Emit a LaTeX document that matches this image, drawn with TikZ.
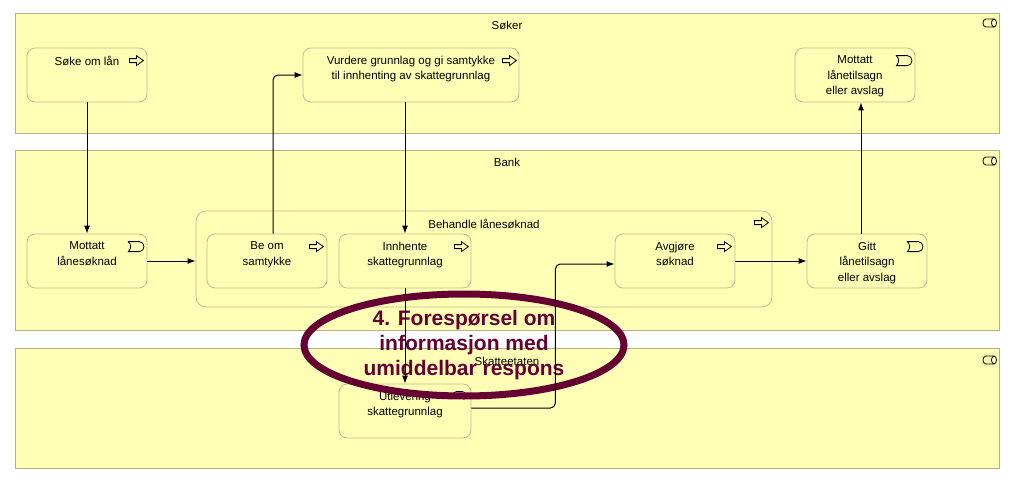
\documentclass[tikz,border=0pt]{standalone}
\usepackage{fontspec}
\setmainfont{Liberation Sans}
\usetikzlibrary{arrows.meta,shapes.geometric,positioning}

\definecolor{bizfill}{RGB}{255,255,181}
\definecolor{laneborder}{RGB}{178,178,132}
\definecolor{elemborder}{RGB}{188,188,145}
\definecolor{calloutred}{RGB}{102,0,51}

\begin{document}
\begin{tikzpicture}[
    x=1pt, y=-1pt,
    % Stili
    lane/.style={
        rectangle, draw=laneborder, fill=bizfill, line width=0.8pt,
        minimum width=984pt, minimum height=120pt, inner sep=0pt
    },
    lanetitle/.style={font=\fontsize{11.5}{15}\selectfont, inner sep=0pt},
    elem/.style={
        rectangle, draw=elemborder, fill=bizfill, line width=0.8pt,
        rounded corners=8pt, minimum width=120pt, minimum height=54pt,
        inner sep=0pt
    },
    eltext/.style={
        anchor=north, align=center, inner sep=0pt, yshift=-8pt,
        font=\fontsize{11.5}{15.5}\selectfont
    },
    icon/.style={draw=black, line width=0.8pt},
    procicon/.pic={
        \draw[icon] (-7,-2) -- (0,-2) -- (0,-5) -- (7,0) -- (0,5) -- (0,2) -- (-7,2) -- cycle;
    },
    eventicon/.pic={
        \draw[icon] (-8,-5) -- (3,-5) .. controls (9,-5) and (9,5) .. (3,5)
            -- (-8,5) .. controls (-5,2) and (-5,-2) .. (-8,-5) -- cycle;
    },
    roleicon/.pic={
        \draw[icon] (4,-4) -- (-4,-4) .. controls (-8,-4) and (-8,4) .. (-4,4) -- (4,4);
        \draw[icon] (4,0) ellipse [x radius=2.5, y radius=4];
    },
    serviceicon/.pic={
        \draw[icon, rounded corners=3pt] (-6,-3) rectangle (6,3);
    },
    flow/.style={-{Latex[length=8pt,width=6pt]}, line width=1pt, black},
    ring/.style={draw=calloutred, line width=7pt},
    callout/.style={
        align=center, inner sep=0pt, text=calloutred,
        font=\fontsize{21}{25}\selectfont\bfseries
    }
]
\useasboundingbox (0,0) rectangle (1013,479);

% Lane: Søker
\node[lane] (soker_lane) at (507,73) {};
\node[lanetitle] (soker_title) at (507,25) {Søker};
\pic at (990,23) {roleicon};

% Lane: Bank
\node[lane, minimum height=180pt] (bank_lane) at (507,240) {};
\node[lanetitle] (bank_title) at (507,162) {Bank};
\pic at (990,161) {roleicon};

% Lane: Skatteetaten
\node[lane] (skatt_lane) at (507,408) {};
\node[lanetitle] (skatt_title) at (507,361) {Skatteetaten};
\pic at (990,360) {roleicon};

% Søker elements
\node[elem, label={[eltext]north:Søke om lån}] (soke_lan) at (87,75) {};
\pic at ([xshift=-11pt,yshift=-13pt]soke_lan.north east) {procicon};

\node[elem, minimum width=216pt,
      label={[eltext]north:Vurdere grunnlag og gi samtykke\\til innhenting av skattegrunnlag}] (vurdere) at (411,75) {};
\pic at ([xshift=-10pt,yshift=-13pt]vurdere.north east) {procicon};

\node[elem, label={[eltext]north:Mottatt\\lånetilsagn\\eller avslag}] (mottatt_tilsagn) at (855,75) {};
\pic at ([xshift=-11pt,yshift=-13pt]mottatt_tilsagn.north east) {eventicon};

% Bank elements
\node[elem, label={[eltext]north:Mottatt\\lånesøknad}] (mottatt_soknad) at (87,261) {};
\pic at ([xshift=-11pt,yshift=-13pt]mottatt_soknad.north east) {eventicon};

\node[elem, minimum width=576pt, minimum height=96pt, rounded corners=10pt,
      label={[eltext]north:Behandle lånesøknad}] (behandle) at (484,259) {};
\pic at ([xshift=-11pt,yshift=-12pt]behandle.north east) {procicon};

\node[elem, label={[eltext]north:Be om\\samtykke}] (be_om) at (267,261) {};
\pic at ([xshift=-11pt,yshift=-13pt]be_om.north east) {procicon};

\node[elem, minimum width=132pt, label={[eltext]north:Innhente\\skattegrunnlag}] (innhente) at (405,261) {};
\pic at ([xshift=-10pt,yshift=-13pt]innhente.north east) {procicon};

\node[elem, label={[eltext]north:Avgjøre\\søknad}] (avgjore) at (675,261) {};
\pic at ([xshift=-11pt,yshift=-13pt]avgjore.north east) {procicon};

\node[elem, label={[eltext]north:Gitt\\lånetilsagn\\eller avslag}] (gitt) at (867,261) {};
\pic at ([xshift=-12pt,yshift=-13pt]gitt.north east) {eventicon};

% Skatteetaten elements
\node[elem, minimum width=132pt, label={[eltext]north:Utlevering\\skattegrunnlag}] (utlevering) at (405,411) {};
\pic at ([xshift=-12pt,yshift=-11pt]utlevering.north east) {serviceicon};

% Callout
\node[callout] (callout) at (464,345) {4. Forespørsel om\\informasjon med\\umiddelbar respons};
\draw[ring] (callout.center) ellipse [x radius=160, y radius=51];

% Flows
\coordinate (be_om_top) at ([xshift=6pt]be_om.north);
\coordinate (gitt_top) at ([xshift=-6pt]gitt.north);
\draw[flow] (soke_lan) -- (mottatt_soknad);
\draw[flow] (mottatt_soknad) -- (mottatt_soknad -| behandle.west);
\draw[flow, rounded corners=5pt] (be_om_top) |- (vurdere.west);
\draw[flow] (vurdere.south -| innhente.north) -- (innhente.north);
\draw[flow] (innhente.south) -- (utlevering.north);
\draw[flow, rounded corners=5pt] ([yshift=3pt]utlevering.east) -- ++(84,0) |- ([yshift=-3pt]avgjore.west);
\draw[flow] (avgjore) -- (gitt);
\draw[flow] (gitt_top) -- (gitt_top |- mottatt_tilsagn.south);

\end{tikzpicture}
\end{document}
